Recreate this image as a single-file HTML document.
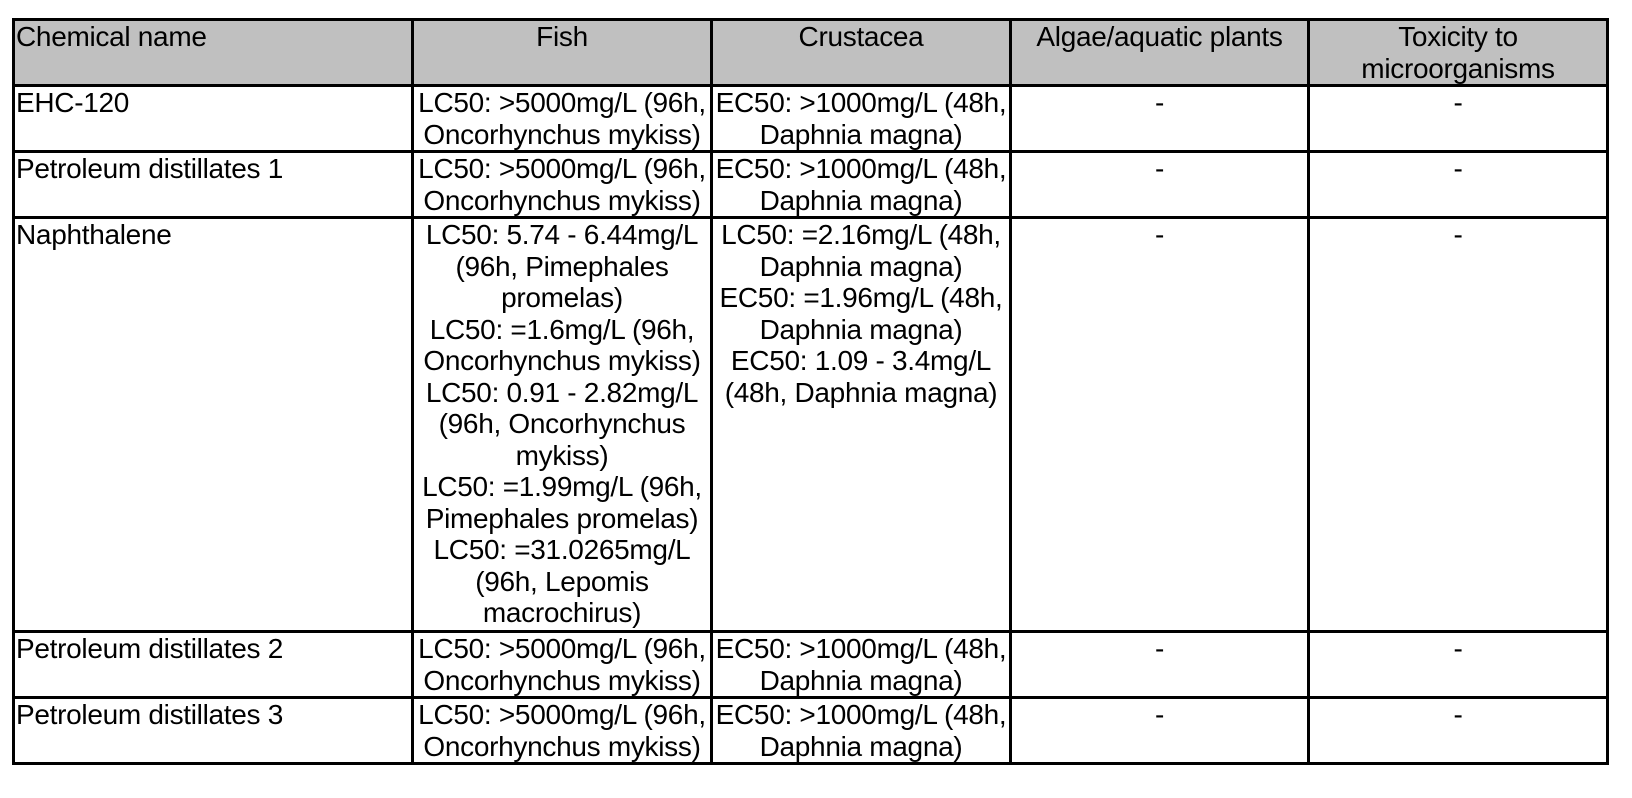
<!DOCTYPE html>
<html><head><meta charset="utf-8">
<style>
html,body{margin:0;padding:0;background:#fff;width:1632px;height:798px;overflow:hidden}
table{position:absolute;left:12px;top:18px;border-collapse:collapse;table-layout:fixed;
font-family:"Liberation Sans",Arial,sans-serif;font-size:28px;line-height:31.5px;color:#000}
td{border:3px solid #000;vertical-align:top;padding:0;text-align:center;overflow:visible;white-space:nowrap;letter-spacing:-0.3px}
td.l{text-align:left;padding-left:1px}
tr.h td{background:#c0c0c0}
</style></head><body>
<table>
<colgroup><col style="width:399px"><col style="width:299px"><col style="width:299px"><col style="width:298px"><col style="width:299px"></colgroup>
<tr class="h" style="height:66px"><td class="l">Chemical name</td><td>Fish</td><td>Crustacea</td><td>Algae/aquatic plants</td><td>Toxicity to<br>microorganisms</td></tr>
<tr style="height:66px"><td class="l">EHC-120</td><td>LC50: &gt;5000mg/L (96h,<br>Oncorhynchus mykiss)</td><td>EC50: &gt;1000mg/L (48h,<br>Daphnia magna)</td><td>-</td><td>-</td></tr>
<tr style="height:66px"><td class="l">Petroleum distillates 1</td><td>LC50: &gt;5000mg/L (96h,<br>Oncorhynchus mykiss)</td><td>EC50: &gt;1000mg/L (48h,<br>Daphnia magna)</td><td>-</td><td>-</td></tr>
<tr style="height:414px"><td class="l">Naphthalene</td><td>LC50: 5.74 - 6.44mg/L<br>(96h, Pimephales<br>promelas)<br>LC50: =1.6mg/L (96h,<br>Oncorhynchus mykiss)<br>LC50: 0.91 - 2.82mg/L<br>(96h, Oncorhynchus<br>mykiss)<br>LC50: =1.99mg/L (96h,<br>Pimephales promelas)<br>LC50: =31.0265mg/L<br>(96h, Lepomis<br>macrochirus)</td><td>LC50: =2.16mg/L (48h,<br>Daphnia magna)<br>EC50: =1.96mg/L (48h,<br>Daphnia magna)<br>EC50: 1.09 - 3.4mg/L<br>(48h, Daphnia magna)</td><td>-</td><td>-</td></tr>
<tr style="height:65px"><td class="l">Petroleum distillates 2</td><td>LC50: &gt;5000mg/L (96h,<br>Oncorhynchus mykiss)</td><td>EC50: &gt;1000mg/L (48h,<br>Daphnia magna)</td><td>-</td><td>-</td></tr>
<tr style="height:66px"><td class="l">Petroleum distillates 3</td><td>LC50: &gt;5000mg/L (96h,<br>Oncorhynchus mykiss)</td><td>EC50: &gt;1000mg/L (48h,<br>Daphnia magna)</td><td>-</td><td>-</td></tr>
</table>
</body></html>
